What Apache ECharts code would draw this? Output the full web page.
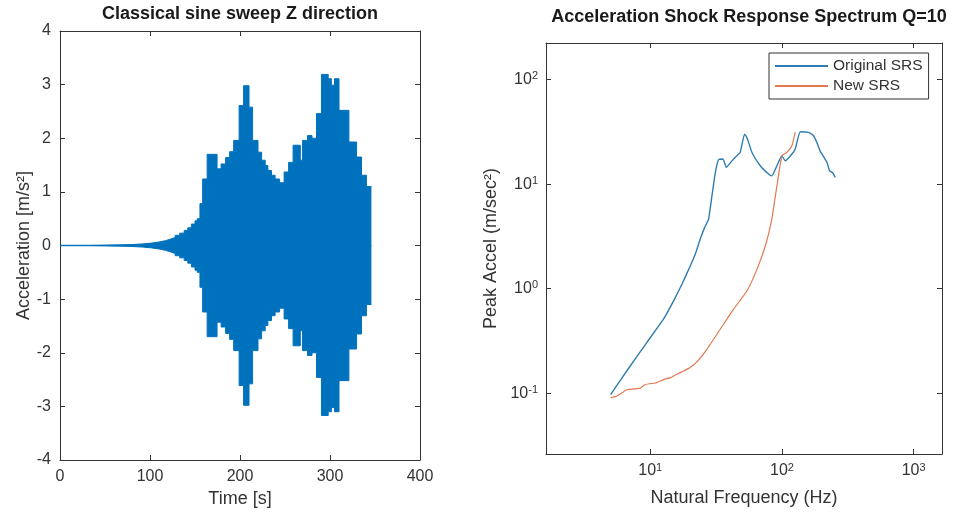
<!DOCTYPE html>
<html>
<head>
<meta charset="utf-8">
<title>Sine sweep and shock response spectrum</title>
<script src="https://cdn.jsdelivr.net/npm/echarts@6/dist/echarts.min.js"></script>
<style>
  html, body { margin: 0; padding: 0; background: #ffffff; }
  #chart { width: 958px; height: 517px; }
</style>
</head>
<body>
<div id="chart"></div>
<script>
// ---- Sine sweep: stepped amplitude envelope of the time signal ----
// Each entry starts a step: amplitude holds until the next start time.
const envTime = [0, 30, 50, 65, 80, 92, 102, 110, 117, 123, 128, 133, 138, 142, 146, 150,
  152.5, 155.5, 158.5, 163.5, 174.5, 179, 184, 188.5, 193, 199, 204, 210, 214, 220,
  224, 228, 231, 235, 239, 244, 249, 254, 259, 267, 269.5, 275, 280, 285, 290.5,
  298, 301.5, 305, 310, 321, 329.5, 335, 340.5, 346];
const envUpper = [0.004, 0.008, 0.012, 0.018, 0.03, 0.045, 0.065, 0.09, 0.12, 0.15, 0.19, 0.23, 0.28, 0.33, 0.40, 0.46,
  0.50, 0.78, 1.24, 1.70, 1.43, 1.52, 1.64, 1.75, 1.96, 2.61, 2.98, 2.58, 1.96, 1.74,
  1.59, 1.49, 1.40, 1.31, 1.24, 1.17, 1.37, 1.55, 1.87, 1.59, 1.96, 2.05, 2.00, 2.46, 3.19,
  3.11, 2.99, 3.11, 2.52, 1.93, 1.65, 1.31, 1.10, 1.10];
const envLower = [-0.004, -0.008, -0.012, -0.018, -0.03, -0.045, -0.065, -0.09, -0.12, -0.15, -0.19, -0.23, -0.28, -0.33, -0.40, -0.46,
  -0.50, -0.78, -1.24, -1.70, -1.43, -1.52, -1.64, -1.75, -1.96, -2.61, -2.98, -2.58, -1.96, -1.74,
  -1.59, -1.49, -1.40, -1.31, -1.24, -1.17, -1.37, -1.55, -1.87, -1.59, -1.96, -2.05, -2.00, -2.46, -3.17,
  -3.10, -3.02, -3.10, -2.52, -1.93, -1.65, -1.31, -1.10, -1.10];

const timeTicks = [0, 100, 200, 300, 400];
const accelTicks = [-4, -3, -2, -1, 0, 1, 2, 3, 4];

// ---- Shock response spectrum, Q = 10 ----
const freqOriginal = [5.0, 7.0, 9.5, 12.6, 15.0, 17.5, 20.0, 22.0, 24.0, 26.0, 27.7, 29.4, 31.2,
  33.0, 35.6, 37.8, 41.7, 45.5, 48.2, 52.0, 54.2, 59.2, 68.4, 79.1, 83.9, 91.6, 100,
  106, 119, 126, 138, 159, 174, 184, 195, 220, 230, 242, 254];
const accelOriginal = [0.097, 0.18, 0.31, 0.51, 0.76, 1.12, 1.62, 2.15, 3.0, 3.9, 4.6, 7.7, 12.9,
  17.1, 17.4, 14.5, 16.7, 18.7, 20.1, 30.1, 28.0, 20.1, 15.0, 12.5, 12.0, 15.0, 18.7,
  16.7, 19.4, 21.6, 31.7, 31.3, 29.0, 25.1, 20.8, 16.1, 13.4, 12.9, 11.6];
const freqNew = [5.0, 5.6, 6.65, 8.4, 9.16, 11.2, 12.6, 14.2, 15.95, 17.9,
  20.1, 22.6, 26.9, 34.0, 42.9, 54.2, 64.6, 74.8, 83.8, 91.6, 100, 109, 119, 126];
const accelNew = [0.0906, 0.094, 0.108, 0.112, 0.121, 0.126, 0.135, 0.141, 0.152, 0.163,
  0.176, 0.199, 0.263, 0.409, 0.636, 0.95, 1.53, 2.56, 4.63, 9.63, 18.7, 20.1, 23.3, 31.3];

const pairs = (xs, ys) => xs.map((x, i) => [x, ys[i]]);

const FONT = '"Liberation Sans", Arial, Helvetica, sans-serif';
const AX = '#333333';
const BLUE = '#0072BD';

function linearAxis(gridIndex, pos, min, max, interval, showLabels, extra) {
  return Object.assign({
    gridIndex, type: 'value', position: pos, min, max, interval,
    axisLine: { show: true, onZero: false, lineStyle: { color: AX, width: 1 } },
    axisTick: { show: true, inside: true, length: 5, lineStyle: { color: AX } },
    axisLabel: { show: showLabels, fontSize: 16, color: AX, fontFamily: FONT, margin: 9 },
    splitLine: { show: false }
  }, extra || {});
}

// tick labels of the form 10^n
function powerLabel(v) {
  const e = Math.log10(v);
  const r = Math.round(e);
  if (Math.abs(e - r) > 1e-6) return '';
  return '{b|10}{e|' + r + '}';
}
const powerRich = {
  b: { fontSize: 16, color: AX, fontFamily: FONT },
  e: { fontSize: 11, color: AX, fontFamily: FONT, verticalAlign: 'top', padding: [0, 0, 7, 0] }
};

function logAxis(gridIndex, pos, min, max, showLabels, extra) {
  return Object.assign({
    gridIndex, type: 'log', logBase: 10, position: pos, min, max,
    axisLine: { show: true, onZero: false, lineStyle: { color: AX, width: 1 } },
    axisTick: { show: true, inside: true, length: 5, lineStyle: { color: AX } },
    axisLabel: { show: showLabels, formatter: powerLabel, rich: powerRich, margin: 8,
      showMinLabel: false, showMaxLabel: false },
    splitLine: { show: false }
  }, extra || {});
}

const nameStyle = { fontSize: 18, color: AX, fontFamily: FONT };

const chart = echarts.init(document.getElementById('chart'), null, { renderer: 'canvas' });

chart.setOption({
  backgroundColor: '#ffffff',
  animation: false,
  textStyle: { fontFamily: FONT },
  title: [
    { text: 'Classical sine sweep Z direction', left: 240, top: 5, textAlign: 'center', padding: 0,
      textStyle: { fontSize: 18, fontWeight: 'bold', color: '#1a1a1a', fontFamily: FONT } },
    { text: 'Acceleration Shock Response Spectrum Q=10', left: 749, top: 8, textAlign: 'center', padding: 0,
      textStyle: { fontSize: 18, fontWeight: 'bold', color: '#1a1a1a', fontFamily: FONT } }
  ],
  legend: {
    data: ['Original SRS', 'New SRS'],
    orient: 'vertical',
    left: 769, top: 53,
    padding: [5, 6, 5, 6],
    itemWidth: 53, itemHeight: 2, itemGap: 4,
    icon: 'rect',
    borderColor: AX, borderWidth: 1, backgroundColor: '#ffffff',
    textStyle: { fontSize: 15.5, color: AX, fontFamily: FONT }
  },
  grid: [
    { left: 60, top: 31, width: 360, height: 429 },
    { left: 546, top: 43, width: 396, height: 411 }
  ],
  xAxis: [
    linearAxis(0, 'bottom', timeTicks[0], timeTicks[timeTicks.length - 1], 100, true, {
      name: 'Time [s]', nameLocation: 'middle', nameGap: 27, nameTextStyle: nameStyle
    }),
    linearAxis(0, 'top', timeTicks[0], timeTicks[timeTicks.length - 1], 100, false),
    logAxis(1, 'bottom', 1.615, 1643, true, {
      name: 'Natural Frequency (Hz)', nameLocation: 'middle', nameGap: 35, nameTextStyle: nameStyle
    }),
    logAxis(1, 'top', 1.615, 1643, false)
  ],
  yAxis: [
    linearAxis(0, 'left', accelTicks[0], accelTicks[accelTicks.length - 1], 1, true, {
      name: 'Acceleration [m/s²]', nameLocation: 'middle', nameGap: 22, nameTextStyle: nameStyle
    }),
    linearAxis(0, 'right', accelTicks[0], accelTicks[accelTicks.length - 1], 1, false),
    logAxis(1, 'left', 0.0262, 224, true, {
      name: 'Peak Accel (m/sec²)', nameLocation: 'middle', nameGap: 46, nameTextStyle: nameStyle
    }),
    logAxis(1, 'right', 0.0262, 224, false)
  ],
  series: [
    {
      name: 'sweep+', type: 'line', xAxisIndex: 0, yAxisIndex: 0,
      data: pairs(envTime, envUpper), step: 'end', symbol: 'none',
      lineStyle: { color: BLUE, width: 1 },
      areaStyle: { color: BLUE, opacity: 1, origin: -0.008 }
    },
    {
      name: 'sweep-', type: 'line', xAxisIndex: 0, yAxisIndex: 0,
      data: pairs(envTime, envLower), step: 'end', symbol: 'none',
      lineStyle: { color: BLUE, width: 1 },
      areaStyle: { color: BLUE, opacity: 1, origin: 0.008 }
    },
    {
      name: 'Original SRS', type: 'line', xAxisIndex: 2, yAxisIndex: 2,
      data: pairs(freqOriginal, accelOriginal), symbol: 'none', smooth: 0.15,
      color: '#2f7db0',
      lineStyle: { color: '#2f7db0', width: 1.4 }
    },
    {
      name: 'New SRS', type: 'line', xAxisIndex: 2, yAxisIndex: 2,
      data: pairs(freqNew, accelNew), symbol: 'none', smooth: 0.15,
      color: '#e07a50',
      lineStyle: { color: '#e07a50', width: 1.2 }
    }
  ]
});
</script>
</body>
</html>
